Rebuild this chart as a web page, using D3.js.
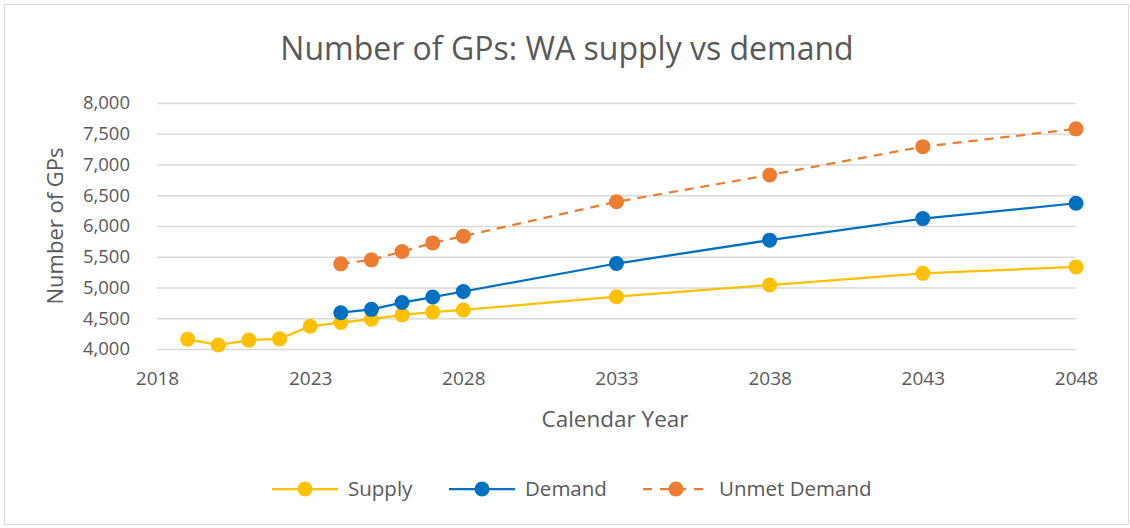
<!DOCTYPE html>
<html>
<head>
<meta charset="utf-8">
<script src="https://cdn.jsdelivr.net/npm/d3@7"></script>
<style>
  body { margin: 0; background: #fff; }
  text { font-family: "Open Sans", "Noto Sans", sans-serif; fill: #595959; }
</style>
</head>
<body>
<div id="chart"></div>
<script>
// years on the x axis
var supplyYears = [2019, 2020, 2021, 2022, 2023, 2024, 2025, 2026, 2027, 2028, 2033, 2038, 2043, 2048];
var supplyValues = [4160, 4065, 4145, 4165, 4370, 4430, 4485, 4555, 4600, 4635, 4850, 5040, 5230, 5335];

var demandYears = [2024, 2025, 2026, 2027, 2028, 2033, 2038, 2043, 2048];
var demandValues = [4590, 4645, 4755, 4845, 4935, 5390, 5770, 6120, 6370];
var unmetValues = [5385, 5450, 5585, 5725, 5835, 6395, 6830, 7290, 7580];

var xTicks = [2018, 2023, 2028, 2033, 2038, 2043, 2048];
var yTicks = [4000, 4500, 5000, 5500, 6000, 6500, 7000, 7500, 8000];

var series = [
  { name: "Supply", color: "#FFC000", dash: null, years: supplyYears, values: supplyValues },
  { name: "Demand", color: "#0070C0", dash: null, years: demandYears, values: demandValues },
  { name: "Unmet Demand", color: "#ED7D31", dash: "9,7", years: demandYears, values: unmetValues }
];

var W = 1130, H = 528;
var margin = {top: 103, right: 54, bottom: 179, left: 157},
    width = W - margin.left - margin.right,
    height = H - margin.top - margin.bottom;

var svg = d3.select("#chart").append("svg")
    .attr("width", W)
    .attr("height", H);

// outer border
svg.append("rect")
    .attr("x", 4.5).attr("y", 4.5)
    .attr("width", W - 6).attr("height", H - 8)
    .attr("fill", "#fff")
    .attr("stroke", "#D9D9D9");

svg.append("text")
    .attr("x", 567).attr("y", 60)
    .attr("text-anchor", "middle")
    .style("font-size", "32px")
    .text("Number of GPs: WA supply vs demand");

var g = svg.append("g")
    .attr("transform", "translate(" + margin.left + "," + margin.top + ")");

var x = d3.scaleLinear().domain([2018, 2048]).range([0, width]);
var y = d3.scaleLinear().domain([4000, 8000]).range([height, 0]);

// gridlines + y labels
var yAxis = g.append("g")
    .call(d3.axisLeft(y).tickValues(yTicks).tickSize(-width).tickPadding(27)
      .tickFormat(d3.format(",")));
yAxis.select(".domain").remove();
yAxis.selectAll("line").attr("stroke", "#D9D9D9").attr("stroke-width", 1.3);
yAxis.selectAll("text").style("font-size", "18.5px").attr("fill", "#595959");

var xAxis = g.append("g")
    .attr("transform", "translate(0," + height + ")")
    .call(d3.axisBottom(x).tickValues(xTicks).tickSize(0).tickPadding(23)
      .tickFormat(d3.format("d")));
xAxis.select(".domain").remove();
xAxis.selectAll("text").style("font-size", "19px").attr("fill", "#595959");

svg.append("text")
    .attr("x", 615).attr("y", 427)
    .attr("text-anchor", "middle")
    .style("font-size", "22.5px")
    .text("Calendar Year");

svg.append("text")
    .attr("transform", "translate(63,226) rotate(-90)")
    .attr("text-anchor", "middle")
    .style("font-size", "22px")
    .text("Number of GPs");

var line = d3.line()
    .x(function(d) { return x(d[0]); })
    .y(function(d) { return y(d[1]); });

series.forEach(function(s) {
  var pts = s.years.map(function(yr, i) { return [yr, s.values[i]]; });
  g.append("path")
      .datum(pts)
      .attr("fill", "none")
      .attr("stroke", s.color)
      .attr("stroke-width", 2.25)
      .attr("stroke-dasharray", s.dash)
      .attr("d", line);
  g.selectAll(null)
      .data(pts)
      .enter().append("circle")
      .attr("cx", function(d) { return x(d[0]); })
      .attr("cy", function(d) { return y(d[1]); })
      .attr("r", 7.5)
      .attr("fill", s.color);
});

// legend
var legendX = [272, 449, 643];
var legend = svg.append("g").attr("transform", "translate(0,489)");
series.forEach(function(s, i) {
  var lx = legendX[i];
  legend.append("line")
      .attr("x1", lx).attr("x2", lx + 66)
      .attr("stroke", s.color)
      .attr("stroke-width", 2.25)
      .attr("stroke-dasharray", s.dash ? "9,8" : null);
  legend.append("circle")
      .attr("cx", lx + 33).attr("r", 7.5)
      .attr("fill", s.color);
  legend.append("text")
      .attr("x", lx + 76).attr("y", 7)
      .style("font-size", "20.5px")
      .text(s.name);
});
</script>
</body>
</html>
